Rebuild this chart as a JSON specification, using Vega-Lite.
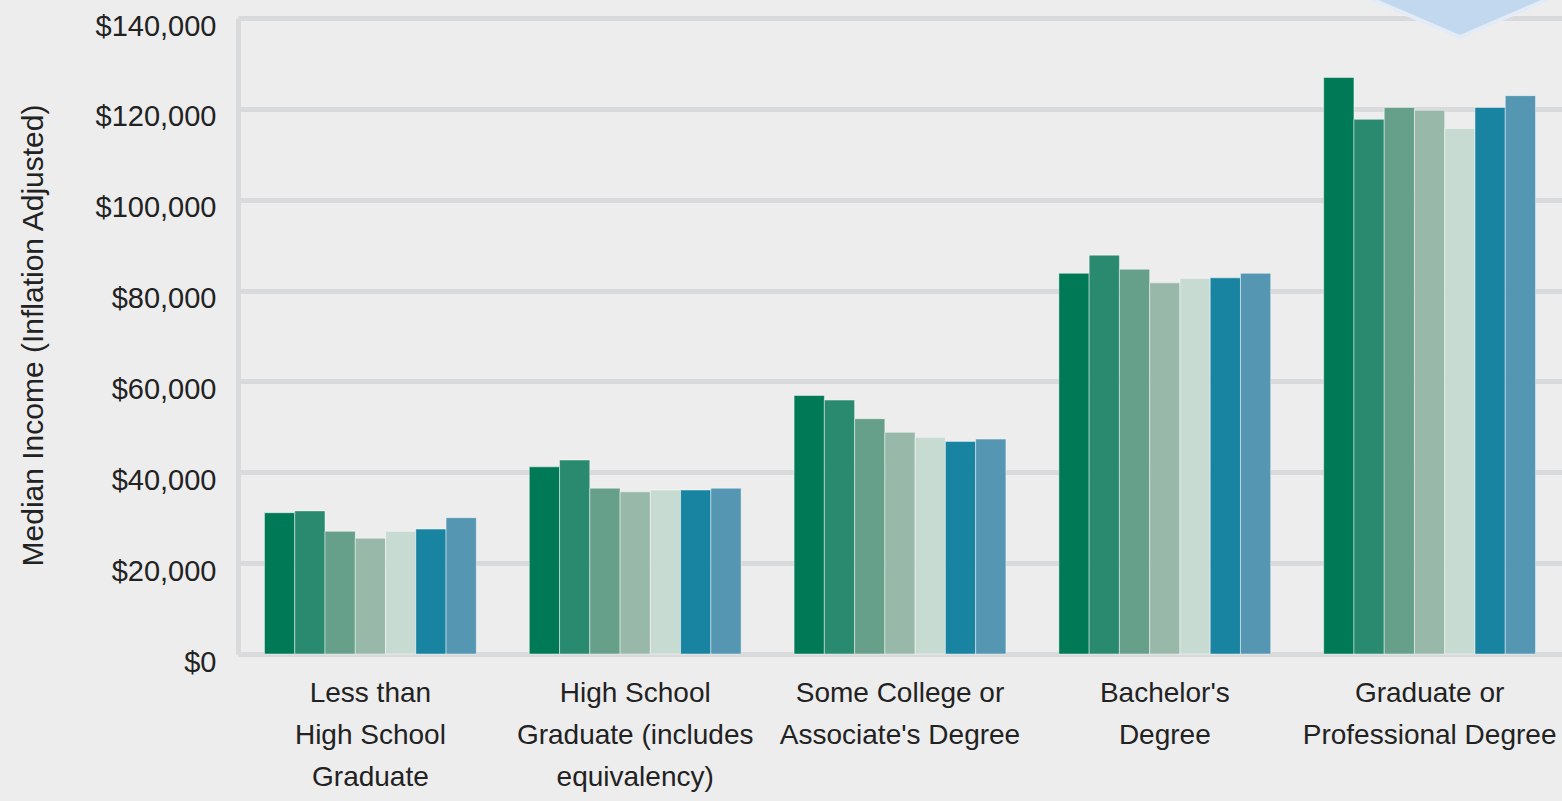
{
  "$schema": "https://vega.github.io/schema/vega-lite/v6.json",
  "width": 1324,
  "height": 636,
  "autosize": {"type": "none"},
  "padding": {"left": 238, "top": 18, "right": 0, "bottom": 147},
  "background": "#ededed",
  "config": {
    "view": {"stroke": null},
    "font": "Liberation Sans"
  },
  "datasets": {
    "income": [
      {"edu": "Less than|High School|Graduate", "series": "s1", "income": 31100},
      {"edu": "Less than|High School|Graduate", "series": "s2", "income": 31500},
      {"edu": "Less than|High School|Graduate", "series": "s3", "income": 27000},
      {"edu": "Less than|High School|Graduate", "series": "s4", "income": 25500},
      {"edu": "Less than|High School|Graduate", "series": "s5", "income": 27000},
      {"edu": "Less than|High School|Graduate", "series": "s6", "income": 27500},
      {"edu": "Less than|High School|Graduate", "series": "s7", "income": 30000},
      {"edu": "High School|Graduate (includes|equivalency)", "series": "s1", "income": 41200},
      {"edu": "High School|Graduate (includes|equivalency)", "series": "s2", "income": 42700},
      {"edu": "High School|Graduate (includes|equivalency)", "series": "s3", "income": 36500},
      {"edu": "High School|Graduate (includes|equivalency)", "series": "s4", "income": 35700},
      {"edu": "High School|Graduate (includes|equivalency)", "series": "s5", "income": 36100},
      {"edu": "High School|Graduate (includes|equivalency)", "series": "s6", "income": 36100},
      {"edu": "High School|Graduate (includes|equivalency)", "series": "s7", "income": 36500},
      {"edu": "Some College or|Associate's Degree", "series": "s1", "income": 56900},
      {"edu": "Some College or|Associate's Degree", "series": "s2", "income": 55900},
      {"edu": "Some College or|Associate's Degree", "series": "s3", "income": 51800},
      {"edu": "Some College or|Associate's Degree", "series": "s4", "income": 48800},
      {"edu": "Some College or|Associate's Degree", "series": "s5", "income": 47700},
      {"edu": "Some College or|Associate's Degree", "series": "s6", "income": 46800},
      {"edu": "Some College or|Associate's Degree", "series": "s7", "income": 47300},
      {"edu": "Bachelor's|Degree", "series": "s1", "income": 83800},
      {"edu": "Bachelor's|Degree", "series": "s2", "income": 87800},
      {"edu": "Bachelor's|Degree", "series": "s3", "income": 84700},
      {"edu": "Bachelor's|Degree", "series": "s4", "income": 81700},
      {"edu": "Bachelor's|Degree", "series": "s5", "income": 82700},
      {"edu": "Bachelor's|Degree", "series": "s6", "income": 82800},
      {"edu": "Bachelor's|Degree", "series": "s7", "income": 83800},
      {"edu": "Graduate or|Professional Degree", "series": "s1", "income": 126900},
      {"edu": "Graduate or|Professional Degree", "series": "s2", "income": 117700},
      {"edu": "Graduate or|Professional Degree", "series": "s3", "income": 120300},
      {"edu": "Graduate or|Professional Degree", "series": "s4", "income": 119700},
      {"edu": "Graduate or|Professional Degree", "series": "s5", "income": 115700},
      {"edu": "Graduate or|Professional Degree", "series": "s6", "income": 120300},
      {"edu": "Graduate or|Professional Degree", "series": "s7", "income": 122900}
    ],
    "marker": [
      {"edu": "Graduate or|Professional Degree", "series": "s5", "income": 135800}
    ]
  },
  "layer": [
    {
      "data": {"name": "income"},
      "mark": {"type": "bar", "stroke": "#ffffff", "strokeOpacity": 0.45, "strokeWidth": 1},
      "encoding": {
        "x": {
          "field": "edu", "type": "nominal", "sort": null,
          "scale": {"paddingInner": 0.2, "paddingOuter": 0.1},
          "axis": {
            "title": null,
            "labelExpr": "split(datum.label, '|')",
            "labelFontSize": 28,
            "labelColor": "#222222",
            "labelLineHeight": 42,
            "labelPadding": 25,
            "labelBaseline": "top",
            "labelAngle": 0,
            "labelLimit": 400,
            "ticks": false,
            "domain": false,
            "grid": false
          }
        },
        "xOffset": {"field": "series", "type": "nominal", "scale": {"paddingInner": 0, "paddingOuter": 0}},
        "y": {
          "field": "income", "type": "quantitative",
          "scale": {"domain": [0, 140000], "nice": false},
          "axis": {
            "title": "Median Income (Inflation Adjusted)",
            "titleFontSize": 30,
            "titleFontWeight": "normal",
            "titleColor": "#222222",
            "titleX": -205,
            "titleY": 317,
            "titleAngle": 270,
            "titleAlign": "center",
            "titleBaseline": "middle",
            "values": [0, 20000, 40000, 60000, 80000, 100000, 120000, 140000],
            "format": "$,.0f",
            "labelFontSize": 29,
            "labelColor": "#222222",
            "labelPadding": 22,
            "labelOffset": 8,
            "ticks": false,
            "domainColor": "#d9dadc",
            "domainWidth": 5,
            "gridColor": "#d9dadc",
            "gridWidth": 5,
            "gridOpacity": 1
          }
        },
        "color": {
          "field": "series", "type": "nominal", "legend": null,
          "scale": {
            "domain": ["s1", "s2", "s3", "s4", "s5", "s6", "s7"],
            "range": ["#007a56", "#2a8a70", "#66a08a", "#98b9a9", "#c8dbd3", "#1884a2", "#5596b2"]
          }
        }
      }
    },
    {
      "data": {"name": "marker"},
      "mark": {
        "type": "point",
        "shape": "M-2,-0.859L2,-0.859L0,0Z",
        "size": 26569,
        "filled": true,
        "fill": "#c1d8ee",
        "opacity": 1,
        "stroke": "#e3ecf6",
        "strokeWidth": 4,
        "clip": false
      },
      "encoding": {
        "x": {"field": "edu", "type": "nominal", "sort": null},
        "xOffset": {"field": "series", "type": "nominal"},
        "y": {"field": "income", "type": "quantitative"}
      }
    }
  ]
}
